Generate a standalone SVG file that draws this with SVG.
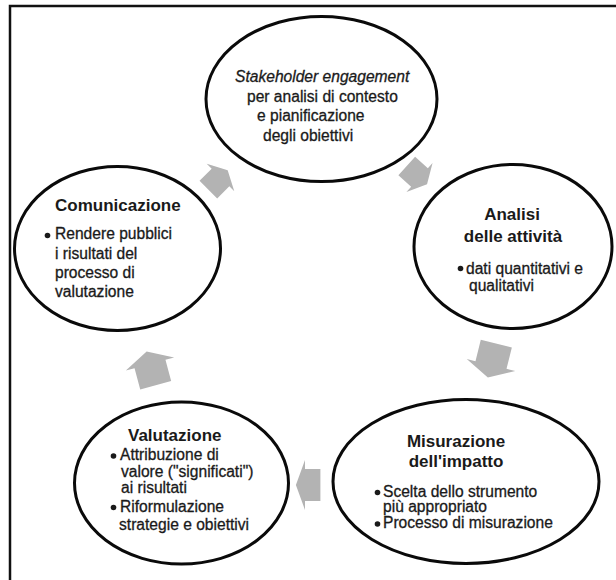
<svg xmlns="http://www.w3.org/2000/svg" xmlns:xlink="http://www.w3.org/1999/xlink" width="616" height="580" viewBox="0 0 616 580">
<style>
.frame{stroke:#111;stroke-width:2.5;fill:none}
.node{fill:#fff;stroke:#0a0a0a;stroke-width:3}
.arr{fill:#b3b3b3}
text{font-family:"Liberation Sans",Arial,sans-serif;fill:#1a1a1a;stroke:#1a1a1a;stroke-width:0.3}
.t{font-size:17px;font-weight:bold;stroke-width:0}
.b{font-size:15.6px}
.i{font-style:italic}
.dot{fill:#1a1a1a}
</style>
<defs>
<path id="arrow" d="M13,0 L0,-25 L0,-16 L-22,-16 L-22,16 L0,16 L0,25 Z"/>
</defs>
<rect width="616" height="580" fill="#fff"/>
<path class="frame" d="M10,580 V6 H616"/>
<g id="connectors">
<use class="arr" xlink:href="#arrow" transform="translate(220.5,177.5) rotate(-45) scale(0.78)"/>
<use class="arr" xlink:href="#arrow" transform="translate(419.5,177.5) rotate(42) scale(0.78)"/>
<use class="arr" xlink:href="#arrow" transform="translate(491,365) rotate(104)"/>
<use class="arr" xlink:href="#arrow" transform="translate(305,485) rotate(180) scale(0.7,1)"/>
<use class="arr" xlink:href="#arrow" transform="translate(150,364) rotate(-105)"/>
</g>
<g id="node-stakeholder">
<ellipse class="node" cx="321.5" cy="99" rx="115.5" ry="82.5"/>
<text class="b i" x="235" y="82">Stakeholder engagement</text>
<text class="b" x="247" y="101.7">per analisi di contesto</text>
<text class="b" x="257" y="121.4">e pianificazione</text>
<text class="b" x="263" y="141">degli obiettivi</text>
</g>
<g id="node-analisi">
<ellipse class="node" cx="513" cy="246.5" rx="99" ry="82"/>
<text class="t" x="512" y="220" text-anchor="middle">Analisi</text>
<text class="t" x="513" y="242" text-anchor="middle">delle attività</text>
<circle class="dot" cx="460.5" cy="268.5" r="2.8"/>
<text class="b" x="466" y="274">dati quantitativi e</text>
<text class="b" x="469" y="291">qualitativi</text>
</g>
<g id="node-misurazione">
<ellipse class="node" cx="466" cy="481.5" rx="133" ry="82"/>
<text class="t" x="456" y="447.3" text-anchor="middle">Misurazione</text>
<text class="t" x="456" y="466.7" text-anchor="middle">dell'impatto</text>
<circle class="dot" cx="377.5" cy="492.5" r="2.8"/>
<text class="b" x="383" y="496.7">Scelta dello strumento</text>
<text class="b" x="383" y="512">più appropriato</text>
<circle class="dot" cx="377.5" cy="524" r="2.8"/>
<text class="b" x="383" y="528.3">Processo di misurazione</text>
</g>
<g id="node-valutazione">
<ellipse class="node" cx="181.5" cy="483" rx="107" ry="81"/>
<text class="t" x="128" y="441">Valutazione</text>
<circle class="dot" cx="113.5" cy="456" r="2.8"/>
<text class="b" x="120" y="460">Attribuzione di</text>
<text class="b" x="121" y="477">valore ("significati")</text>
<text class="b" x="121" y="493">ai risultati</text>
<circle class="dot" cx="113.5" cy="507.5" r="2.8"/>
<text class="b" x="120" y="512">Riformulazione</text>
<text class="b" x="119" y="530">strategie e obiettivi</text>
</g>
<g id="node-comunicazione">
<ellipse class="node" cx="117.5" cy="248.5" rx="103" ry="82"/>
<text class="t" x="55" y="211">Comunicazione</text>
<circle class="dot" cx="47.5" cy="235.5" r="2.8"/>
<text class="b" x="55" y="239.3">Rendere pubblici</text>
<text class="b" x="55" y="258.6">i risultati del</text>
<text class="b" x="55" y="277.9">processo di</text>
<text class="b" x="55" y="297.2">valutazione</text>
</g>
</svg>
